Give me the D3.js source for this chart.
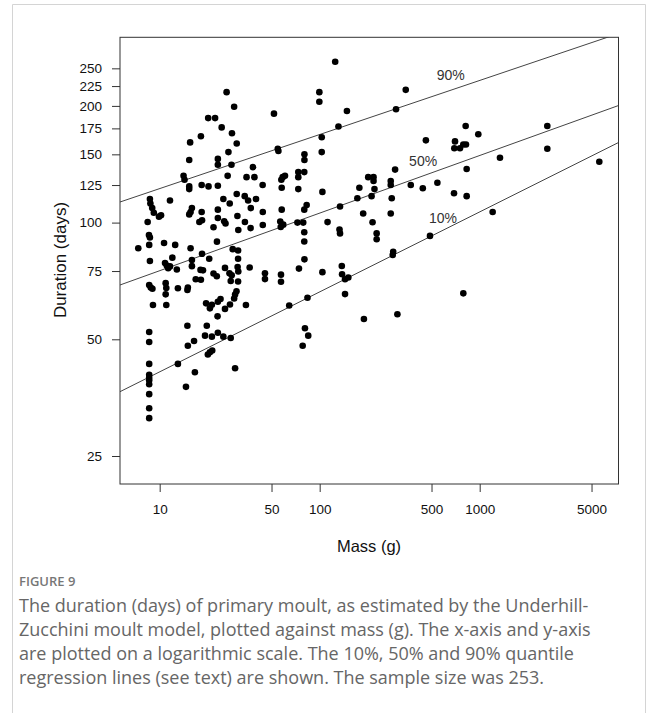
<!DOCTYPE html>
<html><head><meta charset="utf-8">
<script src="https://cdn.jsdelivr.net/npm/d3@7"></script>
<style>body{margin:0;background:#fff;} svg{display:block}</style>
</head><body><svg id="chart" width="658" height="713"></svg>
<script>
// Body mass (g) of each species
const mass = [
 125, 26.2, 99.5, 99.5, 29.2, 51.8, 148, 20.1, 22.2, 24.4,
 131, 15.5, 18.1, 28.3, 30.3, 103, 26.9, 103, 54.7, 55.2,
 15.3, 23.1, 23.1, 28.1, 38.3, 80.3, 80.3, 80.1, 73.5, 73.5,
 14.1, 14.3, 15.3, 15.3, 26.6, 34.9, 39.1, 58.7, 60.7, 57.6,
 18.3, 20.2, 23.1, 44, 57.9, 73.5, 177, 30.3, 34, 35.7,
 40, 25, 27.4, 11.6, 8.69, 8.75, 8.98, 9.19, 10.2, 9.9,
 104, 172, 134, 82.9, 80.1, 15.9, 15.3, 18.3, 23.1, 30.6,
 37.1, 44.1, 57.9, 8.41, 17.7, 18.4, 23.1, 25.3, 25.8, 21.7,
 34.1, 37, 31, 44.1, 56.7, 59.2, 57.1, 72.6, 78.9, 112,
 133, 134, 15.6, 8.57, 8.69, 8.6, 7.35, 10.65, 12.5, 15.6,
 22.8, 28.6, 30.9, 18.4, 30.9, 8.69, 10.8, 11.07, 11.3, 11.6,
 12, 12.8, 15.9, 15.9, 20.4, 18, 18.65, 25.6, 27.3, 28.2,
 30.7, 31, 36.5, 21.7, 22.75, 16.8, 18.1, 27.8, 30.9, 45.5,
 45.5, 57.3, 57.3, 74.2, 80.3, 104, 137.5, 138, 144, 151,
 144, 80.1, 80.1, 8.6, 8.79, 9.01, 10.9, 11, 10.9, 13,
 15, 14.9, 9.08, 11, 19.5, 21.2, 20.6, 23.1, 24, 30.2,
 29.6, 29.2, 27.5, 25.6, 23, 34.6, 64.5, 83.9, 8.6, 8.6,
 14.9, 19.7, 19.2, 21.2, 23.1, 25, 27.8, 15, 16.4, 20,
 20.6, 21.3, 80.9, 84.8, 78.3, 8.6, 13, 16.6, 29.6, 8.6,
 8.6, 8.6, 8.6, 14.6, 8.6, 8.6, 8.6, 345, 300, 817,
 980, 2646, 461, 701, 694, 753, 790, 821, 2646, 1339,
 5591, 829, 296, 201, 217, 217, 220, 278, 278, 371,
 441, 544, 211, 282, 691, 829, 187, 278, 214, 1205,
 227, 227, 489, 288, 286, 790, 189, 306
];
// Estimated duration of primary moult (days)
const duration = [
 260, 217, 217, 205, 199, 191, 194, 186, 186, 176,
 177, 161, 167, 170, 160, 166, 152, 152, 155, 153,
 145, 146, 141, 141, 139, 150, 145, 135, 135, 131,
 132, 129, 124, 122, 132, 131, 131, 131, 132, 129,
 125, 124, 124.5, 125, 123, 122, 123, 118.5, 117, 114,
 115, 115, 112, 114, 115, 112, 109, 106, 104.5, 103.6,
 120, 115.6, 110, 111, 108, 109, 105, 106.5, 108, 104,
 109, 106.5, 108, 100.4, 100.4, 101.4, 102.8, 100.8, 99.5, 97.3,
 100.4, 96.8, 95.7, 98.6, 100.6, 98.8, 97.4, 100, 100, 100.3,
 96, 93.8, 106.5, 92.9, 91.5, 87.6, 85.9, 88.6, 87.6, 85.9,
 89.3, 85.4, 84.7, 83.1, 80.7, 79.6, 78.7, 77.5, 76.3, 77.1,
 81.2, 75.7, 80.1, 77.2, 80.7, 75.5, 75.3, 76.4, 74, 73.1,
 76.8, 74.8, 76.6, 73.9, 72.7, 71.4, 71.2, 70.7, 70.5, 74,
 71.5, 73.4, 70.4, 76.1, 80.4, 74.5, 77.3, 73.6, 71.4, 72.2,
 65.4, 94.4, 89.4, 69, 68, 67.5, 69.8, 67.8, 65.3, 67.7,
 68, 67, 61.3, 61.3, 61.9, 61.4, 60.1, 62.5, 63.5, 66.5,
 65.2, 63.7, 61.5, 59.9, 57.3, 61.3, 61.1, 64, 52.2, 49.2,
 54.2, 54.2, 51.1, 50.8, 52, 50.8, 50.4, 48.1, 49.5, 45.7,
 46.3, 46.8, 53.4, 51.1, 48.1, 43.2, 43.2, 41.1, 42.1, 40.5,
 39.8, 39.2, 38.3, 37.7, 36.1, 33.2, 31.3, 220, 196, 177.5,
 169, 177.5, 163, 162, 155.5, 155.5, 159, 159, 155, 147,
 143.5, 137.5, 137, 131, 131, 128, 122, 128, 125, 125,
 122.6, 126.7, 117, 115.6, 119, 117, 105.6, 105.6, 100.2, 106.5,
 93.8, 90.6, 92.4, 84.1, 82.5, 65.7, 56.4, 58
];
const xTicks = [10, 50, 100, 500, 1000, 5000];
const yTicks = [25, 50, 75, 100, 125, 150, 175, 200, 225, 250];
// quantile regression lines: log10(duration) = intercept + slope * log10(mass)
const quantiles = ["10%", "50%", "90%"];
const qIntercept = [1.4087, 1.7273, 1.9482];
const qSlope = [0.2063, 0.1486, 0.1395];
// label anchor points (mass, duration)
const qLabelMass = [590, 443, 659];
const qLabelDur = [103, 144.4, 240];

const caption = [
 "The duration (days) of primary moult, as estimated by the Underhill-",
 "Zucchini moult model, plotted against mass (g). The x-axis and y-axis",
 "are plotted on a logarithmic scale. The 10%, 50% and 90% quantile",
 "regression lines (see text) are shown. The sample size was 253."
];

const svg = d3.select("#chart");
const L = 120, R = 618.5, T = 37.3, B = 484;
const x = d3.scaleLog().domain([5.65, 7370]).range([L, R]);
const y = d3.scaleLog().domain([21.17, 300.6]).range([B, T]);

// card
svg.append("path")
  .attr("d", `M12.5,713 V4.5 H645.5 V713`)
  .attr("fill", "none").attr("stroke", "#d4d4d4").attr("stroke-width", 1);

svg.append("defs").append("clipPath").attr("id", "clip")
  .append("rect").attr("x", L).attr("y", T).attr("width", R - L).attr("height", B - T);

const axisFont = "'Liberation Sans', Arial, sans-serif";

// axes
const xAxis = svg.append("g").attr("transform", `translate(0,${B})`)
  .call(d3.axisBottom(x).tickValues(xTicks).tickFormat(d3.format("d")).tickSize(8).tickPadding(12));
const yAxis = svg.append("g").attr("transform", `translate(${L},0)`)
  .call(d3.axisLeft(y).tickValues(yTicks).tickFormat(d3.format("d")).tickSize(8).tickPadding(10));
[xAxis, yAxis].forEach(g => {
  g.select(".domain").remove();
  g.selectAll("line").attr("stroke", "#333");
  g.selectAll("text").attr("fill", "#111").style("font-family", axisFont).style("font-size", "13.5px");
});

// regression lines
const xd = x.domain();
const g = svg.append("g").attr("clip-path", "url(#clip)");
quantiles.forEach((q, i) => {
  const f = m => Math.pow(10, qIntercept[i] + qSlope[i] * Math.log10(m));
  g.append("line")
    .attr("x1", x(xd[0])).attr("y1", y(f(xd[0])))
    .attr("x2", x(xd[1])).attr("y2", y(f(xd[1])))
    .attr("stroke", "#444").attr("stroke-width", 1);
});

// points
g.selectAll("circle").data(mass.map((m, i) => [m, duration[i]])).join("circle")
  .attr("cx", d => x(d[0])).attr("cy", d => y(d[1])).attr("r", 3.3).attr("fill", "#000");

// line labels
quantiles.forEach((q, i) => {
  svg.append("text").attr("x", x(qLabelMass[i])).attr("y", y(qLabelDur[i]) + 5)
    .attr("text-anchor", "middle").attr("fill", "#333")
    .style("font-family", axisFont).style("font-size", "14px").text(q);
});

// box
svg.append("rect").attr("x", L).attr("y", T).attr("width", R - L).attr("height", B - T)
  .attr("fill", "none").attr("stroke", "#333").attr("stroke-width", 1);

// axis titles
svg.append("text").attr("x", 369).attr("y", 552).attr("text-anchor", "middle")
  .attr("fill", "#111").style("font-family", axisFont).style("font-size", "16.5px").text("Mass (g)");
svg.append("text").attr("transform", "translate(66,260) rotate(-90)").attr("text-anchor", "middle")
  .attr("fill", "#111").style("font-family", axisFont).style("font-size", "17px").text("Duration (days)");

// caption
svg.append("text").attr("x", 19).attr("y", 586).attr("fill", "#777")
  .style("font-family", "'Open Sans', sans-serif").style("font-size", "13px").style("font-weight", 600)
  .text("FIGURE 9");
caption.forEach((t, i) => {
  svg.append("text").attr("x", 19).attr("y", 612 + i * 24).attr("fill", "#666")
    .style("font-family", "'Open Sans', sans-serif").style("font-size", "18px")
    .text(t);
});
</script>
</body></html>
